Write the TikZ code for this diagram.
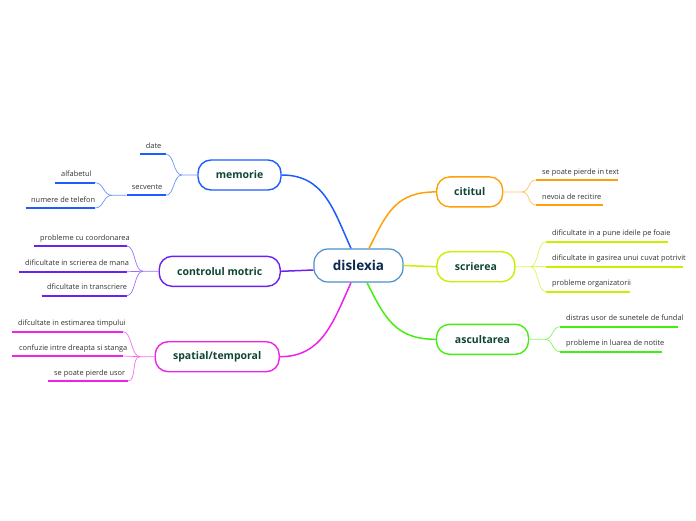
\documentclass[tikz,border=0pt]{standalone}
\usepackage{fontspec}
\setmainfont{Open Sans}
\usetikzlibrary{positioning}

\definecolor{rootc}{HTML}{4A8FCC}
\definecolor{roottext}{HTML}{0B2A4F}
\definecolor{topictext}{HTML}{0F4535}
\definecolor{leaftext}{HTML}{333333}
\definecolor{memc}{HTML}{1F5CFF}
\definecolor{motc}{HTML}{6A22F0}
\definecolor{spac}{HTML}{EE22E8}
\definecolor{citc}{HTML}{FFA00A}
\definecolor{scrc}{HTML}{CCEE00}
\definecolor{ascc}{HTML}{44EE11}

\begin{document}
\begin{tikzpicture}[
  x=1pt, y=-1pt,
  root/.style={rectangle, draw=rootc, line width=1.2pt, fill=white, rounded corners=14pt, minimum width=89pt, minimum height=33pt, font=\fontsize{13.5}{15}\selectfont\bfseries, text=roottext},
  topic/.style={rectangle, draw=#1, line width=1.4pt, fill=white, rounded corners=13pt, minimum height=30pt, font=\fontsize{10.5}{12}\selectfont\bfseries, text=topictext},
  leaf/.style={inner sep=0pt, anchor=base west, font=\fontsize{7.4}{8}\selectfont, text=leaftext},
  ul/.style={line width=2pt, #1},
  twig/.style={line width=0.7pt, #1!65},
  limb/.style={line width=1.5pt, #1}
]
  \useasboundingbox (0,0) rectangle (696,520);

  % central topic and main branches
  \node[root] (dislexia) at (358.5,265.5) {dislexia};
  \node[topic=memc, minimum width=83pt] (memorie) at (239.5,175) {memorie};
  \node[topic=motc, minimum width=121pt] (motric) at (219.7,271.3) {controlul motric};
  \node[topic=spac, minimum width=124pt] (spatial) at (217.2,356.7) {spatial/temporal};
  \node[topic=citc, minimum width=66pt] (cititul) at (469.7,191.9) {cititul};
  \node[topic=scrc, minimum width=78pt] (scrierea) at (475.9,266.7) {scrierea};
  \node[topic=ascc, minimum width=92pt] (ascultarea) at (482.5,339.3) {ascultarea};

  \draw[limb=memc] ([xshift=-7.5pt]dislexia.north) .. controls +(-18,-40) and +(42,0) .. (memorie.east);
  \draw[limb=motc] ([yshift=-4.5pt]dislexia.west) -- (motric.east);
  \draw[limb=spac] ([xshift=-7.5pt]dislexia.south) .. controls +(-18,40) and +(42,0) .. (spatial.east);
  \draw[limb=citc] ([xshift=10.5pt]dislexia.north) .. controls +(18,-36) and +(-40,0) .. (cititul.west);
  \draw[limb=scrc] (dislexia.east) -- (scrierea.west);
  \draw[limb=ascc] ([xshift=8.5pt]dislexia.south) .. controls +(18,36) and +(-40,0) .. (ascultarea.west);

  % memorie
  \node[leaf] (date) at (145.7,148.3) {date};
  \draw[ul=memc] (140,154.3) coordinate (date-l) -- (165.7,154.3) coordinate (date-r);
  \node[leaf] (secvente) at (131.7,189.3) {secvente};
  \draw[ul=memc] (126.7,195.3) coordinate (secv-l) -- (165.7,195.3) coordinate (secv-r);
  \node[leaf] (alfabetul) at (61,176.7) {alfabetul};
  \draw[ul=memc] (55,182.7) coordinate (alfa-l) -- (95,182.7) coordinate (alfa-r);
  \node[leaf] (numere) at (31,202) {numere de telefon};
  \draw[ul=memc] (25.7,208) coordinate (num-l) -- (95,208) coordinate (num-r);

  \coordinate (mem-j) at (182,175);
  \coordinate (secv-j) at (112,195.3);
  \draw[twig=memc] (memorie.west) -- (mem-j) .. controls +(-9,0) and +(9,0) .. (date-r);
  \draw[twig=memc] (mem-j) .. controls +(-9,0) and +(9,0) .. (secv-r);
  \draw[twig=memc] (secv-l) -- (secv-j) .. controls +(-9,0) and +(9,0) .. (alfa-r);
  \draw[twig=memc] (secv-j) .. controls +(-9,0) and +(9,0) .. (num-r);

  % controlul motric
  \node[leaf] (coord) at (40,240) {probleme cu coordonarea};
  \draw[ul=motc] (34,246) coordinate (coord-l) -- (126.7,246) coordinate (coord-r);
  \node[leaf] (mana) at (25,265.7) {dificultate in scrierea de mana};
  \draw[ul=motc] (19,271.7) coordinate (mana-l) -- (126.7,271.7) coordinate (mana-r);
  \node[leaf] (transc) at (47,289.7) {dficultate in transcriere};
  \draw[ul=motc] (41.7,295.7) coordinate (transc-l) -- (126.7,295.7) coordinate (transc-r);

  \coordinate (mot-j) at (143,271.3);
  \draw[twig=motc] (motric.west) -- (mot-j) .. controls +(-9,0) and +(9,0) .. (coord-r);
  \draw[twig=motc] (mot-j) .. controls +(-9,0) and +(9,0) .. (mana-r);
  \draw[twig=motc] (mot-j) .. controls +(-9,0) and +(9,0) .. (transc-r);

  % spatial/temporal
  \node[leaf] (timp) at (18,325.7) {difcultate in estimarea timpului};
  \draw[ul=spac] (12.3,331.7) coordinate (timp-l) -- (123,331.7) coordinate (timp-r);
  \node[leaf] (dreapta) at (19,350) {confuzie intre dreapta si stanga};
  \draw[ul=spac] (12,356) coordinate (dreapta-l) -- (123,356) coordinate (dreapta-r);
  \node[leaf] (usor) at (54,375) {se poate pierde usor};
  \draw[ul=spac] (48,381) coordinate (usor-l) -- (128,381) coordinate (usor-r);

  \coordinate (spa-j) at (140,356.7);
  \draw[twig=spac] (spatial.west) -- (spa-j) .. controls +(-9,0) and +(9,0) .. (timp-r);
  \draw[twig=spac] (spa-j) .. controls +(-9,0) and +(9,0) .. (dreapta-r);
  \draw[twig=spac] (spa-j) .. controls +(-9,0) and +(9,0) .. (usor-r);

  % cititul
  \node[leaf] (text) at (542,174) {se poate pierde in text};
  \draw[ul=citc] (536,180) coordinate (text-l) -- (617.7,180) coordinate (text-r);
  \node[leaf] (recit) at (542,199) {nevoia de recitire};
  \draw[ul=citc] (536,205) coordinate (recit-l) -- (603.3,205) coordinate (recit-r);

  \coordinate (cit-j) at (521.7,191.9);
  \draw[twig=citc] (cititul.east) -- (cit-j) .. controls +(9,0) and +(-9,0) .. (text-l);
  \draw[twig=citc] (cit-j) .. controls +(9,0) and +(-9,0) .. (recit-l);

  % scrierea
  \node[leaf] (idei) at (552,235.7) {dificultate in a pune ideile pe foaie};
  \draw[ul=scrc] (546,241.7) coordinate (idei-l) -- (668.3,241.7) coordinate (idei-r);
  \node[leaf] (cuvat) at (552,260.7) {dificultate in gasirea unui cuvat potrivit};
  \draw[ul=scrc] (546,266.7) coordinate (cuvat-l) -- (683.3,266.7) coordinate (cuvat-r);
  \node[leaf] (organiz) at (552,285.7) {probleme organizatorii};
  \draw[ul=scrc] (546,291.7) coordinate (organiz-l) -- (630,291.7) coordinate (organiz-r);

  \coordinate (scr-j) at (530,266.7);
  \draw[twig=scrc] (scrierea.east) -- (scr-j) .. controls +(9,0) and +(-9,0) .. (idei-l);
  \draw[twig=scrc] (scr-j) -- (cuvat-l);
  \draw[twig=scrc] (scr-j) .. controls +(9,0) and +(-9,0) .. (organiz-l);

  % ascultarea
  \node[leaf] (fundal) at (566,320.7) {distras usor de sunetele de fundal};
  \draw[ul=ascc] (560,326.7) coordinate (fundal-l) -- (678.3,326.7) coordinate (fundal-r);
  \node[leaf] (notite) at (566,345.7) {probleme in luarea de notite};
  \draw[ul=ascc] (560,351.7) coordinate (notite-l) -- (661.7,351.7) coordinate (notite-r);

  \coordinate (asc-j) at (545,339.3);
  \draw[twig=ascc] (ascultarea.east) -- (asc-j) .. controls +(8,0) and +(-8,0) .. (fundal-l);
  \draw[twig=ascc] (asc-j) .. controls +(8,0) and +(-8,0) .. (notite-l);
\end{tikzpicture}
\end{document}
